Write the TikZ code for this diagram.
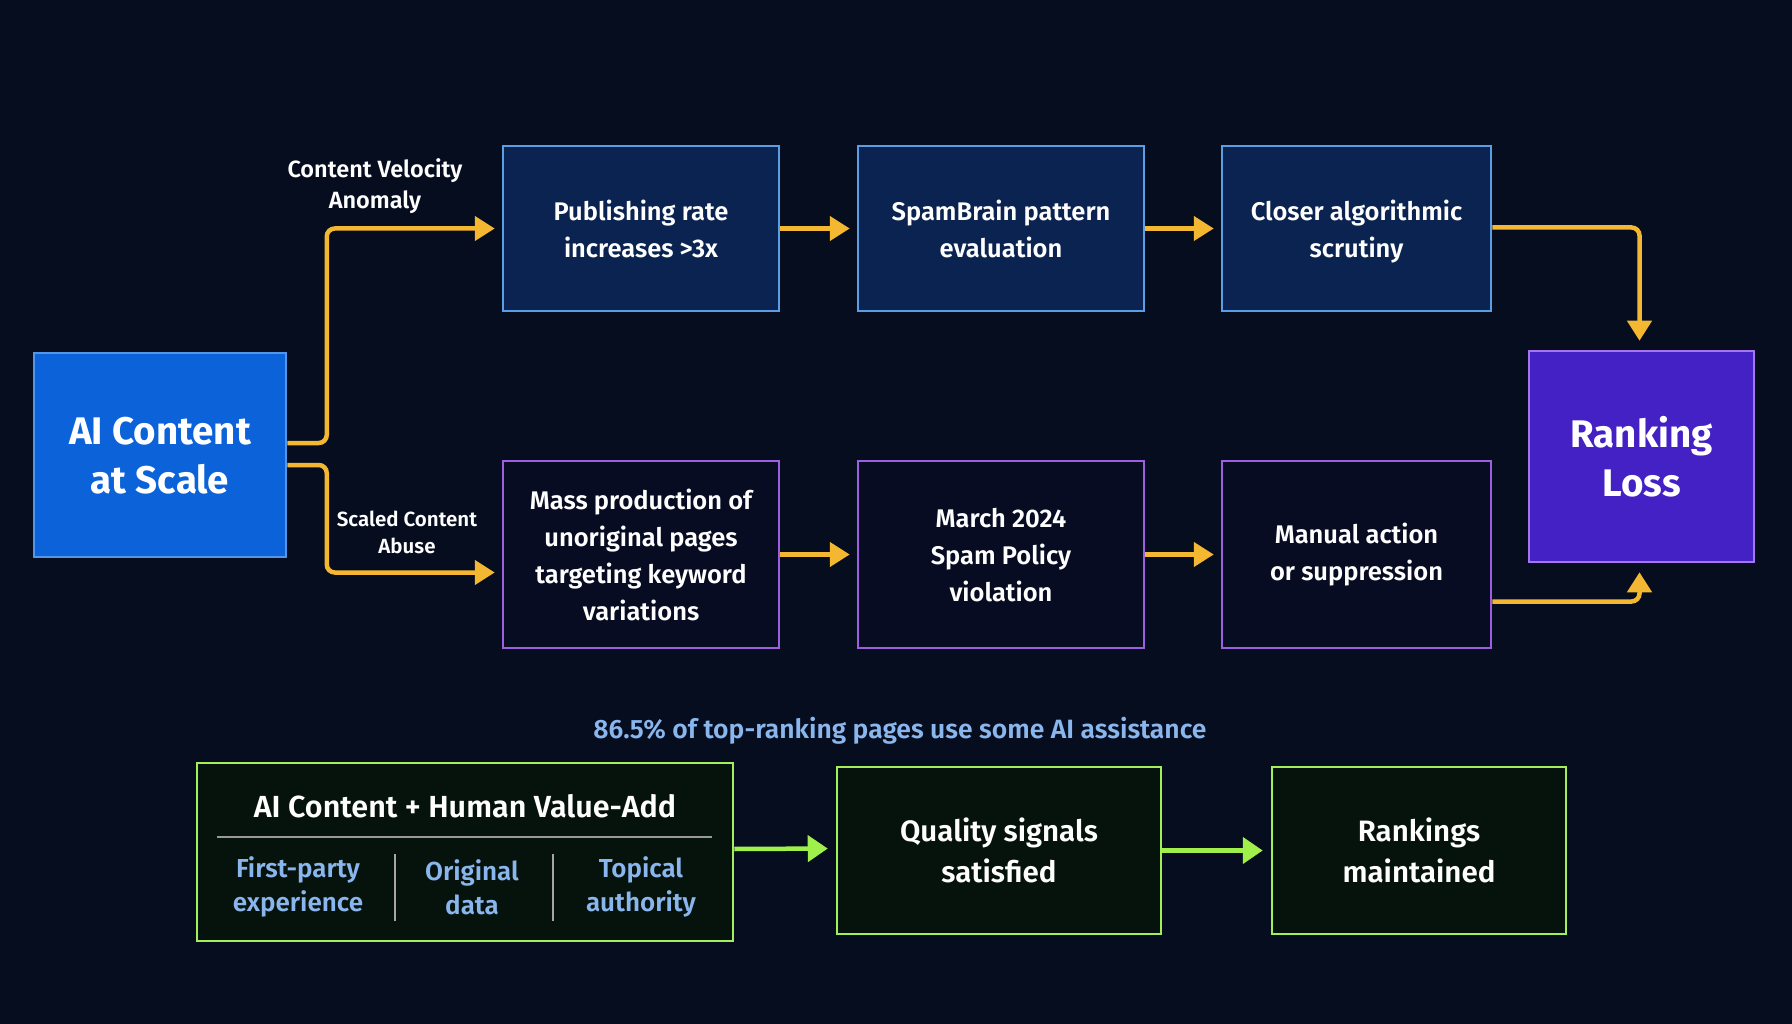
\documentclass[tikz,border=0pt]{standalone}
\usepackage{fontspec}
\setmainfont{Fira Sans}[UprightFont={* SemiBold},BoldFont={* Bold}]
\usetikzlibrary{arrows.meta,positioning,calc}
\definecolor{bgnavy}{HTML}{060D1F}
\definecolor{gold}{HTML}{F4B731}
\definecolor{skyedge}{HTML}{5B9EE6}
\definecolor{skyfill}{HTML}{0B2350}
\definecolor{violetedge}{HTML}{9B5FE0}
\definecolor{violetfill}{HTML}{070C22}
\definecolor{aiblue}{HTML}{0C62D9}
\definecolor{aiedge}{HTML}{5296EA}
\definecolor{lossfill}{HTML}{4321C4}
\definecolor{lossedge}{HTML}{A675EE}
\definecolor{limeedge}{HTML}{A4EE5C}
\definecolor{limefill}{HTML}{06120C}
\definecolor{limearrow}{HTML}{A0F04C}
\definecolor{paleblue}{HTML}{8AB6EE}

\tikzset{
  box/.style={draw, line width=2.5pt, align=center, text=white, inner sep=0pt,
    font=\fontsize{25.5}{37}\selectfont, text depth=-5pt},
  topbox/.style={box, draw=skyedge, fill=skyfill, minimum height=165pt},
  lowbox/.style={box, draw=violetedge, fill=violetfill, minimum height=187pt},
  greenbox/.style={box, draw=limeedge, fill=limefill, font=\fontsize{29.5}{41}\selectfont,
    text depth=-3pt},
  bigbox/.style={box, font=\bfseries\fontsize{38.5}{49}\selectfont, text depth=-6pt},
  flow/.style={draw=gold, line width=4.5pt, rounded corners=8pt,
    -{Triangle[length=20pt,width=24pt]}, shorten >=7pt},
  greenflow/.style={draw=limearrow, line width=4.5pt,
    -{Triangle[length=20pt,width=26pt]}, shorten >=8pt},
  tag/.style={align=center, text=white, font=\fontsize{23.5}{31}\selectfont},
  sub/.style={align=center, text=paleblue, font=\fontsize{26}{34}\selectfont}
}

\begin{document}
\begin{tikzpicture}[x=1pt,y=-1pt]

\fill[bgnavy] (0,0) rectangle (1792,1024);
\useasboundingbox (0,0) rectangle (1792,1024);

% source
\node[bigbox, draw=aiedge, fill=aiblue, minimum width=252pt, minimum height=204pt]
  (ai) at (160,455) {AI Content\\at Scale};

% velocity path
\node[topbox, minimum width=276pt] (pub) at (641,228.5) {Publishing rate\\increases >3x};
\node[topbox, minimum width=286pt] (spam) at (1001,228.5) {SpamBrain pattern\\evaluation};
\node[topbox, minimum width=269pt] (closer) at (1356.5,228.5) {Closer algorithmic\\scrutiny};

% scaled abuse path
\node[lowbox, minimum width=276pt] (mass) at (641,554.5)
  {Mass production of\\unoriginal pages\\targeting keyword\\variations};
\node[lowbox, minimum width=286pt] (march) at (1001,554.5) {March 2024\\Spam Policy\\violation};
\node[lowbox, minimum width=269pt, text depth=6pt] (manual) at (1356.5,554.5)
  {Manual action\\or suppression};

\node[bigbox, draw=lossedge, fill=lossfill, minimum width=225pt, minimum height=211pt,
  text depth=-13pt] (loss) at (1641.5,456.5) {Ranking\\Loss};

\node[tag] (velo) at (375,186) {Content Velocity\\Anomaly};
\node[tag, font=\fontsize{20.5}{27}\selectfont] (abuse) at (407,532) {Scaled Content\\Abuse};

\draw[flow] ($(ai.east)+(0,-12)$) -| ($(pub.west)+(-175,0)$) -- (pub.west);
\draw[flow] ($(ai.east)+(0,10)$) -| ($(mass.west)+(-175,18)$) -- ($(mass.west)+(0,18)$);

\draw[flow] (pub) -- (spam);
\draw[flow] (spam) -- (closer);
\draw[flow] (mass) -- (march);
\draw[flow] (march) -- (manual);

\draw[flow, shorten >=9pt] ($(closer.east)+(0,-1)$) -| ($(loss.north)+(-2,0)$);
\draw[flow, shorten >=9pt] ($(manual.east)+(0,47)$) -| ($(loss.south)+(-2,0)$);

% sustainable path
\node[text=paleblue, font=\fontsize{26.5}{30}\selectfont] (stat) at (900,731)
  {86.5\% of top-ranking pages use some AI assistance};

\node[greenbox, minimum width=536pt, minimum height=178pt] (human) at (465,852) {};
\node[text=white, font=\fontsize{30.5}{34}\selectfont] (humantitle) at (465,806)
  {AI Content + Human Value-Add};
\draw[gray!80, line width=2.5pt] (217,837) -- (712,837);
\draw[gray!70, line width=2pt] (395,854) -- (395,921);
\draw[gray!70, line width=2pt] (553,854) -- (553,921);
\node[sub] (firstparty) at (298,887) {First-party\\experience};
\node[sub] (origdata) at (472,887) {Original\\data};
\node[sub] (topical) at (641,887) {Topical\\authority};

\node[greenbox, minimum width=324pt, minimum height=167pt] (quality) at (999,850.5)
  {Quality signals\\satisfied};
\node[greenbox, minimum width=294pt, minimum height=167pt] (kept) at (1419,850.5)
  {Rankings\\maintained};

\draw[greenflow] ($(human.east)+(0,-3)$) -- ($(quality.west)+(0,-2)$);
\draw[greenflow] (quality) -- (kept);

\end{tikzpicture}
\end{document}
